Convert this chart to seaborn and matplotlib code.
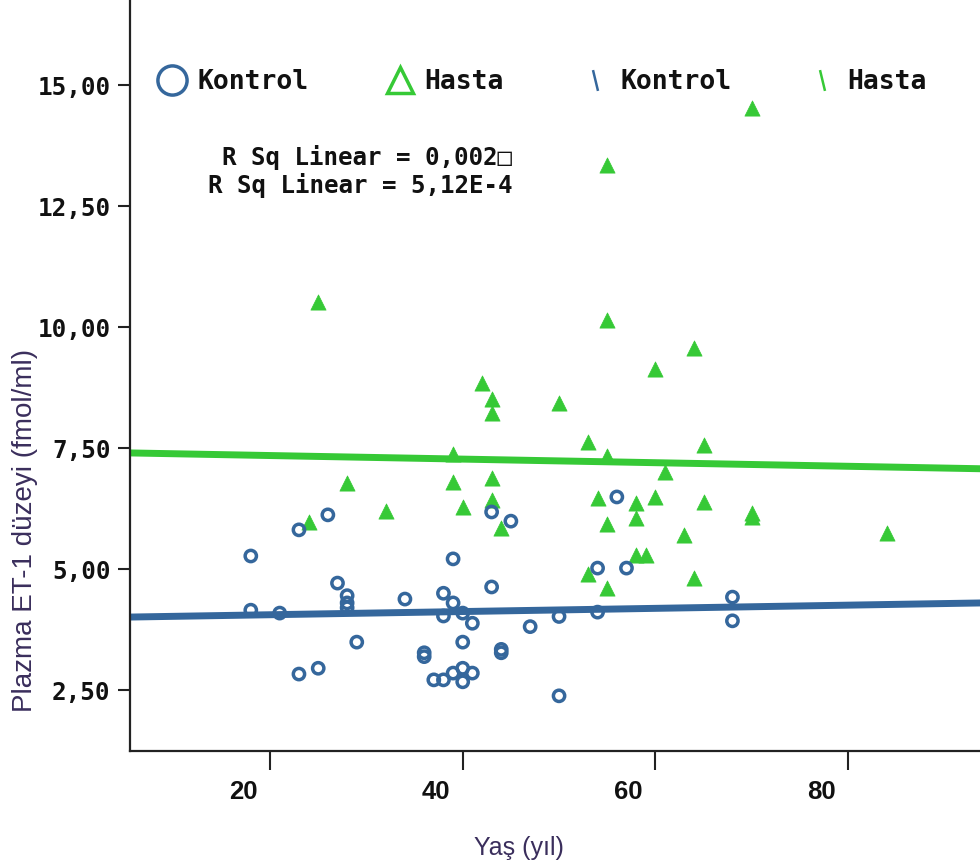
import numpy as np
import pandas as pd
import matplotlib
matplotlib.use("Agg")
import matplotlib.pyplot as plt
import seaborn as sns
from matplotlib.lines import Line2D
from matplotlib.transforms import ScaledTranslation
from matplotlib.ticker import FuncFormatter

# ---- data ----
kontrol_age = [23, 26, 18, 39, 43, 45, 27, 28, 28, 28, 18, 21, 34, 38, 39, 38, 40, 41, 43,
               29, 40, 36, 36, 44, 44, 23, 25, 37, 38, 39, 40, 41, 40,
               50, 47, 50, 54, 54, 57, 56, 68, 68]
kontrol_et1 = [5.81, 6.12, 5.27, 5.21, 6.18, 5.99, 4.71, 4.45, 4.30, 4.20, 4.15, 4.09, 4.38, 4.50, 4.30, 4.03, 4.09, 3.88, 4.63,
               3.49, 3.49, 3.27, 3.19, 3.34, 3.27, 2.83, 2.95, 2.71, 2.71, 2.85, 2.95, 2.85, 2.67,
               2.38, 3.81, 4.02, 4.11, 5.02, 5.02, 6.49, 4.42, 3.93]

hasta_age = [70, 55, 25, 55, 64, 60, 42, 43, 43, 50, 53, 55, 65, 61, 39, 28, 32, 24, 39, 43,
             40, 43, 44, 54, 58, 58, 60, 55, 65, 70, 70, 63, 84, 58, 59, 53, 64, 55]
hasta_et1 = [14.52, 13.35, 10.52, 10.14, 9.57, 9.13, 8.85, 8.51, 8.22, 8.43, 7.62, 7.33, 7.56, 7.00, 7.38, 6.77, 6.20, 5.97, 6.80, 6.88,
             6.28, 6.43, 5.85, 6.47, 6.36, 6.05, 6.49, 5.93, 6.38, 6.15, 6.08, 5.70, 5.74, 5.29, 5.29, 4.90, 4.81, 4.61]

# fit lines (intercept, slope)
kontrol_fit = (3.99, 0.0033)
hasta_fit = (7.42, -0.0037)

groups = ["Kontrol", "Hasta"]
rsq_labels = ["R Sq Linear = 0,002\u25a1", "R Sq Linear = 5,12E-4"]
y_ticks = [2.5, 5.0, 7.5, 10.0, 12.5, 15.0]
x_ticks = [20, 40, 60, 80]

BLUE = "#35679c"
GREEN = "#36c936"
TXT = "#3a2e5c"

sns.set_theme(style="white")
plt.rcParams["font.family"] = ["DejaVu Sans"]

df = pd.DataFrame({
    "Yas": kontrol_age + hasta_age,
    "ET1": kontrol_et1 + hasta_et1,
    "Grup": ["Kontrol"] * len(kontrol_age) + ["Hasta"] * len(hasta_age),
})

fig = plt.figure(figsize=(9.8, 8.68), dpi=100)
ax = fig.add_axes([130 / 980, 117 / 868, 850 / 980, 751 / 868])

xlim = (5.46, 93.7)
ax.set_xlim(*xlim)
ax.set_ylim(1.24, 16.76)

# regression lines
xs = np.array(xlim)
lines = pd.DataFrame({
    "x": np.concatenate([xs, xs]),
    "y": np.concatenate([kontrol_fit[0] + kontrol_fit[1] * xs, hasta_fit[0] + hasta_fit[1] * xs]),
    "g": ["Kontrol", "Kontrol", "Hasta", "Hasta"],
})
sns.lineplot(data=lines, x="x", y="y", hue="g", palette={"Kontrol": BLUE, "Hasta": GREEN},
             linewidth=5, legend=False, ax=ax, zorder=2)

# points
dk = df[df.Grup == "Kontrol"]
dh = df[df.Grup == "Hasta"]
sns.scatterplot(data=dh, x="Yas", y="ET1", marker="^", s=120, color=GREEN,
                edgecolor=GREEN, linewidth=0.5, legend=False, ax=ax, zorder=3)
ax.scatter(dk["Yas"], dk["ET1"], marker="o", s=66, facecolors="none",
           edgecolors=BLUE, linewidths=2.5, zorder=4)

# spines & ticks
for s in ["top", "right"]:
    ax.spines[s].set_visible(False)
for s in ["left", "bottom"]:
    ax.spines[s].set_color("#222222")
    ax.spines[s].set_linewidth(1.6)

ax.set_yticks(y_ticks)
ax.yaxis.set_major_formatter(FuncFormatter(lambda v, p: f"{v:.2f}".replace(".", ",")))
ax.set_xticks(x_ticks)
ax.tick_params(axis="y", direction="out", length=9, width=1.5, color="#222222", pad=5, left=True)
ax.tick_params(axis="x", direction="out", length=14, width=1.5, color="#222222", pad=7, bottom=True)
for lab in ax.get_yticklabels():
    lab.set_fontfamily("DejaVu Sans Mono")
    lab.set_fontweight("bold")
    lab.set_fontsize(17.5)
    lab.set_color("#111111")
off = ScaledTranslation(-27 / 100, 0, fig.dpi_scale_trans)
for lab in ax.get_xticklabels():
    lab.set_fontfamily("Liberation Sans")
    lab.set_fontweight("bold")
    lab.set_fontsize(18.5)
    lab.set_color("#111111")
    lab.set_transform(lab.get_transform() + off)

ax.set_xlabel("Yaş (yıl)", fontsize=18, color=TXT, family="Liberation Sans")
ax.xaxis.set_label_coords((519 - 130) / 850, -(848 - 751) / 751)
ax.set_ylabel("Plazma ET-1 düzeyi (fmol/ml)", fontsize=20, color=TXT, family="Liberation Sans")
ax.yaxis.set_label_coords((25 - 130) / 850, 1 - 530 / 751)
ax.yaxis.label.set_verticalalignment("center")
ax.xaxis.label.set_verticalalignment("center")

# R Sq text
for txt, ypx in zip(rsq_labels, [158, 185]):
    ax.text((512 - 130) / 850, 1 - ypx / 751, txt, transform=ax.transAxes, ha="right", va="center",
            family="DejaVu Sans Mono", fontweight="bold", fontsize=17.4, color="#111111")

# legend
slash = [(-0.12, 0.5), (0.12, -0.5)]
handles = [
    Line2D([], [], linestyle="none", marker="o", markersize=21, markerfacecolor="none",
           markeredgecolor=BLUE, markeredgewidth=2.5),
    Line2D([], [], linestyle="none", marker="^", markersize=19, markerfacecolor="none",
           markeredgecolor=GREEN, markeredgewidth=2.5),
    Line2D([], [], linestyle="none", marker=slash, markersize=15, markeredgecolor=BLUE,
           markeredgewidth=1.8),
    Line2D([], [], linestyle="none", marker=slash, markersize=15, markeredgecolor=GREEN,
           markeredgewidth=1.8),
]
leg = ax.legend(handles, groups + groups, ncol=4, frameon=False,
                loc="center left", bbox_to_anchor=((146 - 130) / 850, 1 - 82 / 751),
                prop={"family": "DejaVu Sans Mono", "weight": "bold", "size": 19},
                handlelength=1.0, handletextpad=0.45, columnspacing=2.95, borderpad=0)
for t in leg.get_texts():
    t.set_color("#111111")

fig.savefig("out.png", dpi=100)
